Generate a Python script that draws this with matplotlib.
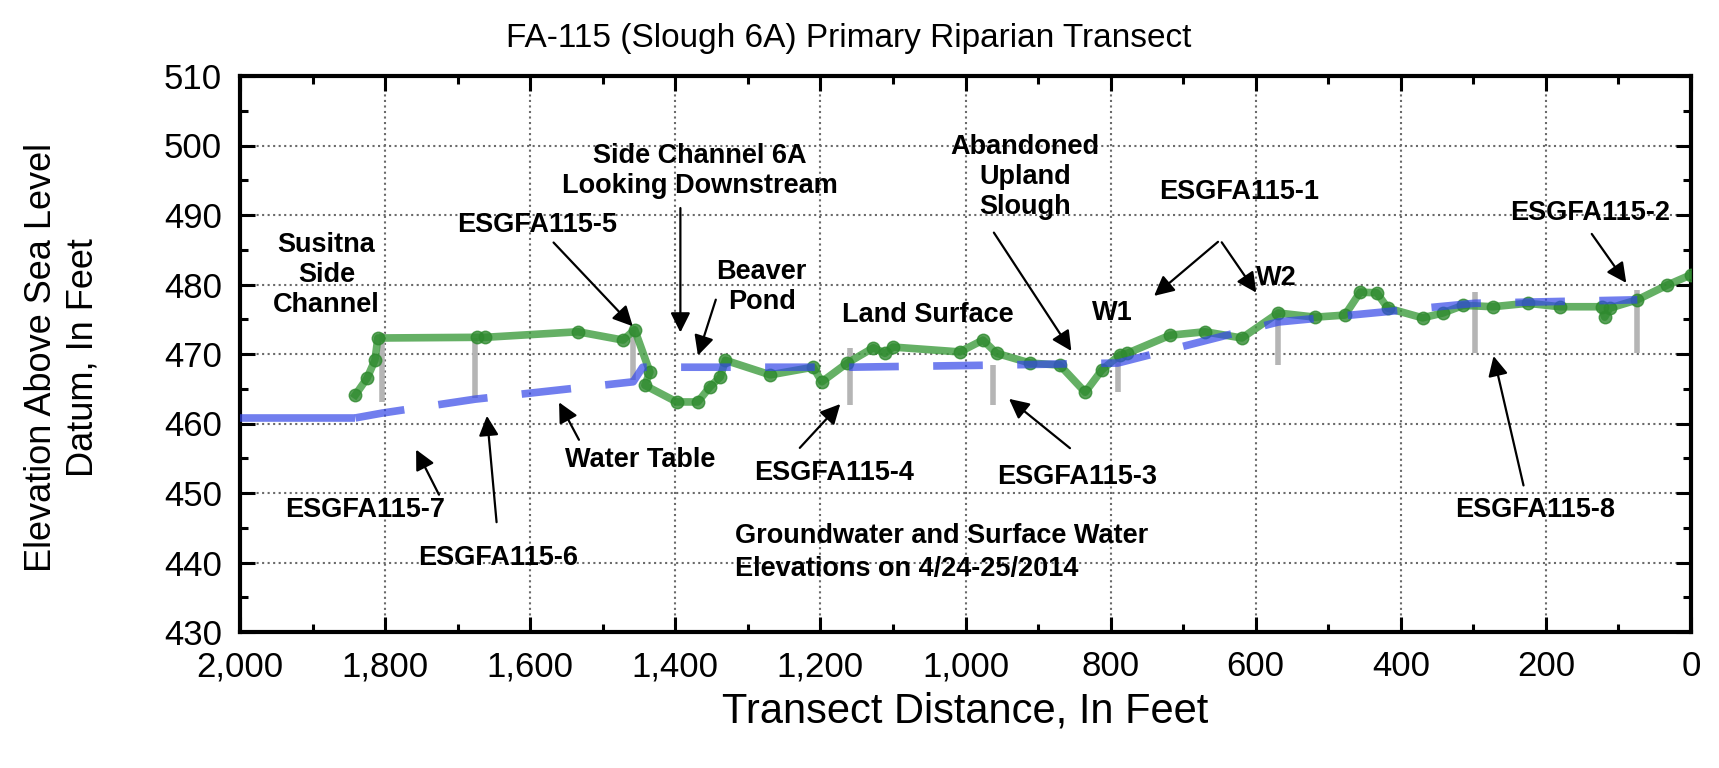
import matplotlib.pyplot as plt
from matplotlib.ticker import MultipleLocator, StrMethodFormatter

plt.rcParams['font.family'] = ['Liberation Sans', 'DejaVu Sans']

# land surface profile (transect distance ft, elevation ft)
ground_x = [1841, 1825, 1814, 1810, 1673, 1662, 1534, 1472, 1456, 1435, 1442, 1398,
            1369, 1352, 1338, 1331, 1269, 1210, 1198, 1163, 1127, 1111, 1100, 1008,
            976, 957, 911, 870, 835, 812, 787, 777, 718, 670, 619, 569, 518, 477,
            456, 433, 418, 370, 342, 314, 273, 225, 181, 123, 119, 112, 74, 33, 0]
ground_y = [464.1, 466.5, 469.1, 472.3, 472.4, 472.4, 473.2, 472.0, 473.5, 467.4, 465.5, 463.1,
            463.1, 465.3, 466.7, 469.1, 467.0, 468.1, 466.0, 468.7, 470.9, 470.1, 471.0, 470.3,
            472.0, 470.1, 468.7, 468.4, 464.5, 467.7, 469.9, 470.1, 472.7, 473.2, 472.3, 475.9, 475.3, 475.6,
            478.9, 478.8, 476.6, 475.2, 475.9, 477.0, 476.8, 477.3, 476.8, 476.8, 475.3, 476.6, 477.8, 479.9, 481.4]

# side channel water surface
chan_x = [2000, 1841]
chan_y = [460.8, 460.8]

# water table
wt_x = [1841, 1804, 1676, 1458, 1445, 1159, 962, 790, 569, 298, 74]
wt_y = [460.8, 461.5, 463.5, 466.0, 468.1, 468.1, 468.4, 468.7, 474.6, 477.3, 477.8]

# wells (top of casing / bottom)
well_x = [1804, 1676, 1458, 1159, 962, 790, 569, 298, 74]
well_top = [473.0, 472.3, 473.5, 470.9, 468.4, 470.1, 475.9, 478.9, 479.2]
well_bot = [463.1, 463.7, 466.3, 462.7, 462.7, 464.5, 468.4, 470.1, 470.1]

fig = plt.figure(figsize=(17.19, 7.68), dpi=100)
ax = fig.add_axes([240/1719, 136/768, 1451/1719, 556/768])

ax.vlines(well_x, well_bot, well_top, color='#b5b5b5', lw=4, zorder=2)
ax.plot(ground_x, ground_y, color='#3f9c3f', lw=5.5, alpha=0.8, marker='o', ms=9,
        mfc='#2f8a2f', mec='#2f8a2f', zorder=3)
ax.plot(chan_x, chan_y, color='#3548e8', lw=5.5, alpha=0.7, solid_capstyle='butt', zorder=4)
ax.plot(wt_x, wt_y, color='#3548e8', lw=5.5, alpha=0.7, dashes=(6.5, 4.5), zorder=4)

ax.set_xlim(2000, 0)
ax.set_ylim(430, 510)
ax.xaxis.set_major_locator(MultipleLocator(200))
ax.xaxis.set_minor_locator(MultipleLocator(100))
ax.yaxis.set_major_locator(MultipleLocator(10))
ax.yaxis.set_minor_locator(MultipleLocator(5))
ax.xaxis.set_major_formatter(StrMethodFormatter('{x:,.0f}'))
ax.tick_params(which='both', direction='in', top=True, right=True, width=2.2, labelsize=25)
ax.tick_params(which='major', length=11, pad=13)
ax.tick_params(which='minor', length=6)
for s in ax.spines.values():
    s.set_linewidth(3)
ax.grid(True, which='major', ls=':', color='#6a6a6a', lw=1.5)
ax.set_axisbelow(True)

ax.set_xlabel('Transect Distance, In Feet', fontsize=30, labelpad=6)
fig.text(0.036, 0.535, 'Elevation Above Sea Level\nDatum, In Feet', rotation=90,
         ha='center', va='center', fontsize=26, linespacing=1.25)
fig.text(0.494, 0.95, 'FA-115 (Slough 6A) Primary Riparian Transect', ha='center',
         va='center', fontsize=24)

tk = dict(fontsize=19.5, fontweight='bold', ha='center', va='center', linespacing=1.2)
ap = dict(arrowstyle='-|>', color='k', lw=1.6, mutation_scale=30)

ax.text(1881, 481.4, 'Susitna\nSide\nChannel', **tk)
ax.annotate('ESGFA115-5', xy=(1456, 473.7), xytext=(1591, 488.6), **tk, arrowprops=ap)
ax.annotate('', xy=(1393, 472.7), xytext=(1393, 491.4), arrowprops=ap)
ax.text(1366, 496.3, 'Side Channel 6A\nLooking Downstream', **tk)
ax.annotate('', xy=(1370, 469.4), xytext=(1343, 478.2), arrowprops=ap)
ax.text(1281, 479.6, 'Beaver\nPond', **tk)
ax.text(1052, 475.6, 'Land Surface', **tk)
ax.annotate('', xy=(852, 470.1), xytext=(963, 487.8), arrowprops=ap)
ax.text(918, 495.5, 'Abandoned\nUpland\nSlough', **tk)
ax.text(623, 493.3, 'ESGFA115-1', **tk)
ax.annotate('', xy=(743, 478.1), xytext=(649, 486.4), arrowprops=ap)
ax.annotate('', xy=(597, 478.5), xytext=(649, 486.4), arrowprops=ap)
ax.text(797, 475.9, 'W1', **tk)
ax.text(571, 480.9, 'W2', **tk)
ax.annotate('', xy=(87, 479.9), xytext=(139, 487.6), arrowprops=ap)
ax.text(139, 490.3, 'ESGFA115-2', **tk)
ax.annotate('', xy=(273, 470.1), xytext=(230, 450.7), arrowprops=ap)
ax.text(215, 447.6, 'ESGFA115-8', **tk)
ax.annotate('', xy=(943, 463.8), xytext=(853, 456.2), arrowprops=ap)
ax.text(846, 452.3, 'ESGFA115-3', **tk)
ax.annotate('', xy=(1170, 463.1), xytext=(1231, 456.2), arrowprops=ap)
ax.text(1181, 452.9, 'ESGFA115-4', **tk)
ax.annotate('', xy=(1562, 463.4), xytext=(1531, 457.3), arrowprops=ap)
ax.text(1449, 454.7, 'Water Table', **tk)
ax.annotate('', xy=(1759, 456.6), xytext=(1724, 449.4), arrowprops=ap)
ax.text(1828, 447.6, 'ESGFA115-7', **tk)
ax.annotate('', xy=(1660, 461.5), xytext=(1646, 445.4), arrowprops=ap)
ax.text(1644, 440.6, 'ESGFA115-6', **tk)
ax.text(1318, 441.4, 'Groundwater and Surface Water\nElevations on 4/24-25/2014',
        fontsize=19.5, fontweight='bold', ha='left', va='center', linespacing=1.35)

fig.savefig('out.png', dpi=100)
